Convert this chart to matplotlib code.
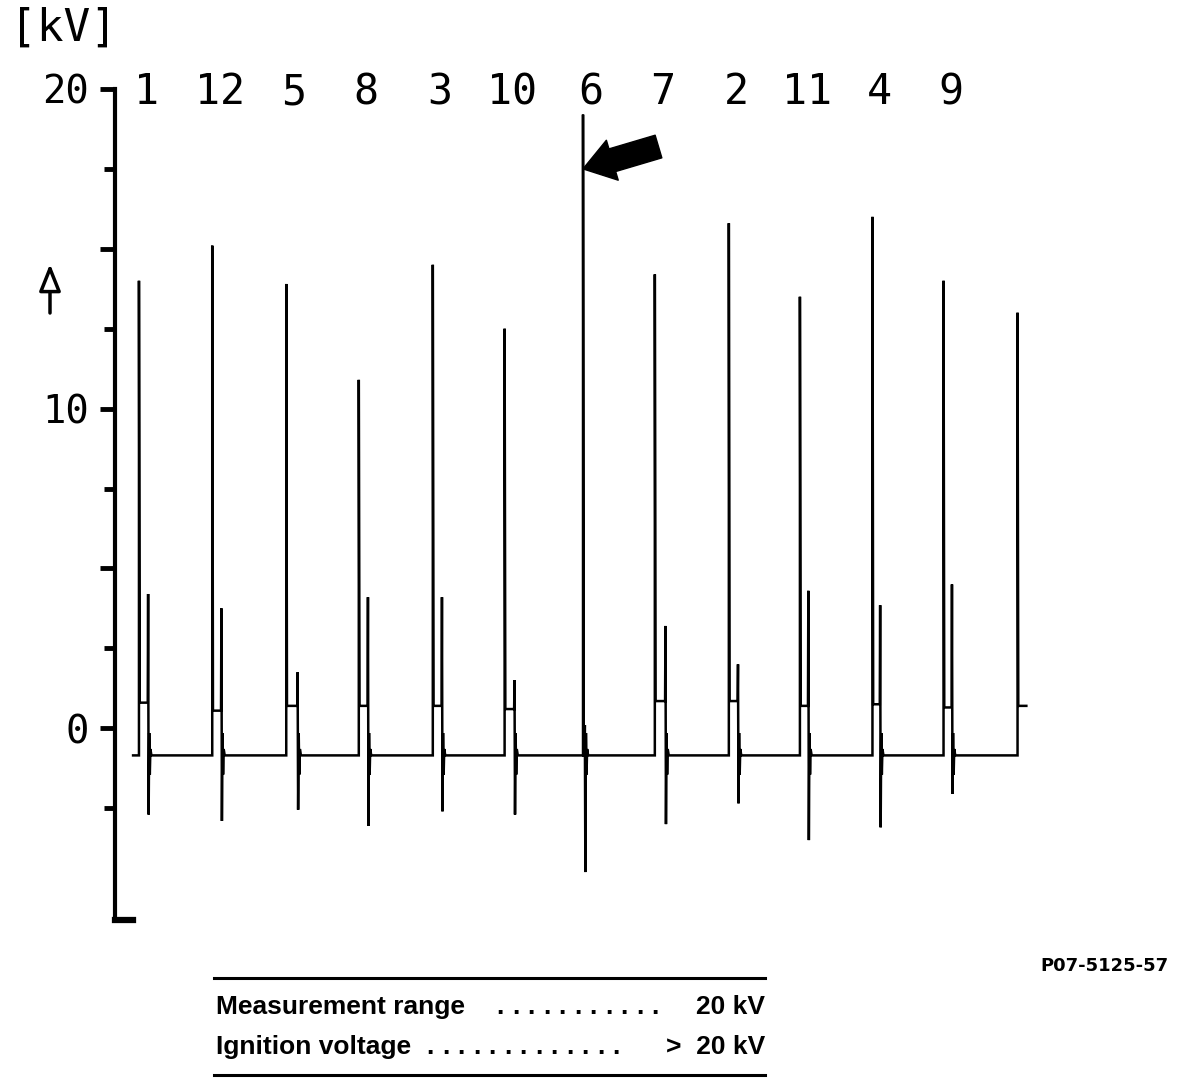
import matplotlib
matplotlib.use('Agg')
import matplotlib.pyplot as plt
from matplotlib.lines import Line2D
from matplotlib.patches import FancyArrowPatch

# firing order printed above the trace
cylinders = ['1', '12', '5', '8', '3', '10', '6', '7', '2', '11', '4', '9']
# firing instants in firing intervals (last one is cylinder 1 again)
fire_t = [0.0, 1.0, 2.01, 3.0, 4.01, 4.99, 6.06, 7.04, 8.05, 9.02, 10.01, 10.98, 11.99]
# ignition voltage peaks [kV]
peak_kv = [14.0, 15.1, 13.9, 10.9, 14.5, 12.5, 19.2, 14.2, 15.8, 13.5, 16.0, 14.0, 13.0]
# burn (spark) voltage [kV]
spark_kv = [0.8, 0.55, 0.7, 0.7, 0.7, 0.6, -0.85, 0.85, 0.85, 0.7, 0.75, 0.65, 0.7]
# burn duration [firing intervals]
burn_t = [0.12, 0.12, 0.15, 0.12, 0.12, 0.13, 0.02, 0.14, 0.12, 0.11, 0.10, 0.11]
# ringing at end of spark, max / min [kV]
ring_hi = [4.2, 3.75, 1.75, 4.1, 4.1, 1.5, 0.1, 3.2, 2.0, 4.3, 3.85, 4.5]
ring_lo = [-2.7, -2.9, -2.55, -3.05, -2.6, -2.7, -4.5, -3.0, -2.35, -3.5, -3.1, -2.05]
baseline_kv = -0.85

# legend table below the chart
table_names = ['Measurement range', 'Ignition voltage']
table_values = ['20 kV', '>  20 kV']
table_dots = [11, 13]

W, H = 1184, 1084


def fx(x):
    return x / W


def fy(y):
    return 1 - y / H


# build the scope trace
t = [fire_t[0] - 0.08]
v = [baseline_kv]
for i, t0 in enumerate(fire_t):
    t += [t0, t0, t0 + 0.01]
    v += [baseline_kv, peak_kv[i], spark_kv[i]]
    if i >= len(burn_t):
        t.append(t0 + 0.12)
        v.append(spark_kv[i])
        break
    te = t0 + burn_t[i]
    t += [te, te + 0.005, te + 0.012, te + 0.02, te + 0.028, te + 0.036, te + 0.05]
    v += [spark_kv[i], ring_hi[i], ring_lo[i], baseline_kv + 0.7,
          baseline_kv - 0.6, baseline_kv + 0.2, baseline_kv]

fig = plt.figure(figsize=(W / 100, H / 100), dpi=100)
ax = fig.add_axes([fx(115), fy(920), fx(915), 831 / H])
ax.plot(t, v, color='black', lw=1.8, solid_joinstyle='miter')

ax.set_xlim(-0.327, 12.16)
ax.set_ylim(-6.0, 20.0)
for s in ['top', 'right']:
    ax.spines[s].set_visible(False)
ax.spines['left'].set_linewidth(3.0)
ax.spines['bottom'].set_linewidth(4.5)
ax.spines['bottom'].set_bounds(-0.327, -0.08)
ax.set_xticks([])

mono = 'DejaVu Sans Mono'
ax.set_yticks([0, 5, 10, 15, 20])
ax.set_yticklabels(['0', '', '10', '', '20'], fontfamily=mono, fontsize=28)
ax.set_yticks([-2.5, 2.5, 7.5, 12.5, 17.5], minor=True)
ax.tick_params(axis='y', which='major', length=11, width=3.5, pad=8)
ax.tick_params(axis='y', which='minor', length=8, width=3.5)

# firing order labels
for i, c in enumerate(cylinders):
    ax.text(fire_t[i] + 0.1, 19.9, c, ha='center', va='center',
            fontfamily=mono, fontsize=30)

# arrow pointing at the highest ignition peak
ax.annotate('', xy=(fire_t[6], 17.5), xytext=(fire_t[6] + 1.03, 18.2),
            arrowprops=dict(arrowstyle='simple,head_length=1.1,head_width=1.5,tail_width=0.85',
                            mutation_scale=20, fc='black', ec='black', shrinkA=0, shrinkB=0))

fig.text(fx(10), fy(28), '[kV]', ha='left', va='center', fontfamily=mono, fontsize=32)
fig.add_artist(FancyArrowPatch(
    (fx(50), fy(313)), (fx(50), fy(264)), transform=fig.transFigure,
    arrowstyle='-|>,head_length=0.75,head_width=0.3', mutation_scale=22,
    fc='white', ec='black', lw=2.5, shrinkA=0, shrinkB=0))

# info table
sans = 'Liberation Sans'
fig.text(fx(1169), fy(966), 'P07-5125-57', ha='right', va='center',
         fontsize=13, fontweight='bold')
for yy in [978, 1075]:
    fig.add_artist(Line2D([fx(214), fx(765)], [fy(yy), fy(yy)], color='black',
                          lw=2.2, transform=fig.transFigure))
row_y = [1014, 1054]
dot_x0 = [500, 430]
for name, val, nd, yb, x0 in zip(table_names, table_values, table_dots, row_y, dot_x0):
    fig.text(fx(216), fy(yb), name, ha='left', va='baseline', fontsize=19,
             fontfamily=sans, fontweight='bold')
    for k in range(nd):
        fig.text(fx(x0 + 15.5 * k), fy(yb), '.', ha='center', va='baseline',
                 fontsize=19, fontfamily=sans, fontweight='bold')
    fig.text(fx(765), fy(yb), val, ha='right', va='baseline', fontsize=19,
             fontfamily=sans, fontweight='bold')

fig.savefig('out.png', dpi=100)
